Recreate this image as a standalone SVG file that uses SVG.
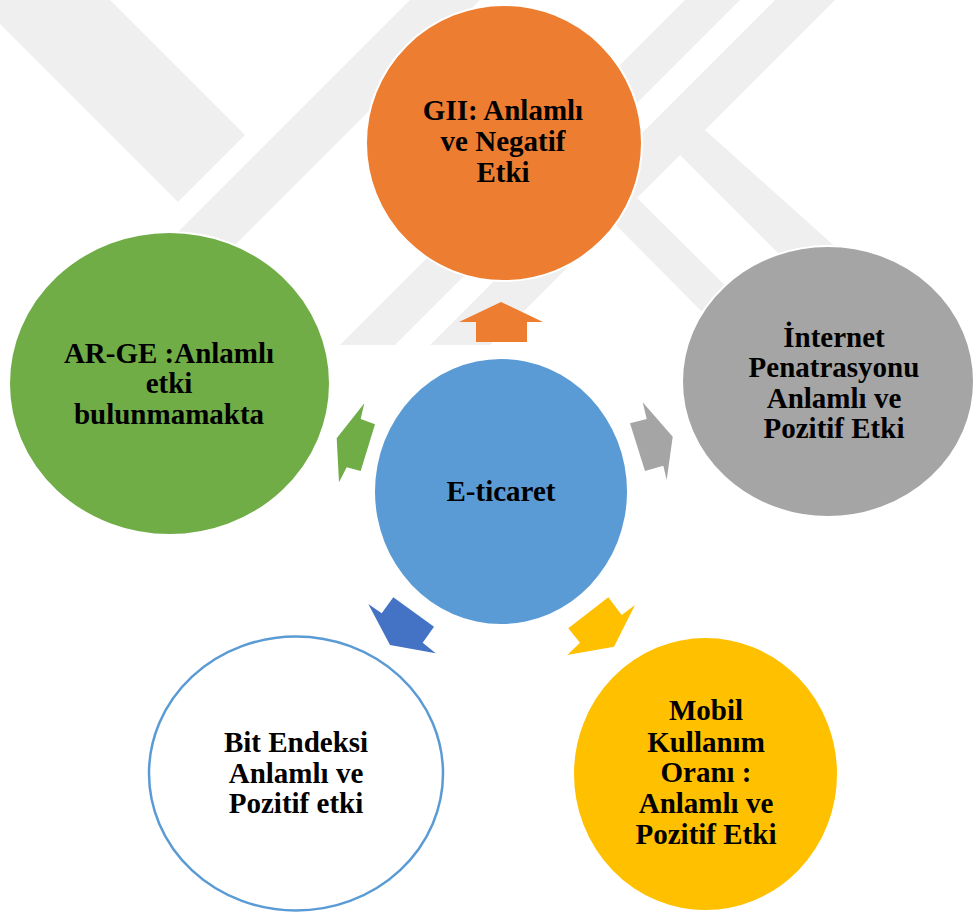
<svg xmlns="http://www.w3.org/2000/svg" width="976" height="912" viewBox="0 0 976 912">
<style>
.wm{fill:#EFEFEF}
.t{font-family:"Liberation Serif","Times New Roman",serif;font-weight:bold;font-size:29px;fill:#000;text-anchor:middle}
.node{stroke:#FFFFFF;stroke-width:2}
</style>
<rect width="976" height="912" fill="#FFFFFF"/>
<g id="watermark">
<polygon class="wm" points="0,0 110,0 245,135 178,202 0,24"/>
<polygon class="wm" points="410,0 480,0 135,345 65,345"/>
<polygon class="wm" points="685,0 740,0 395,345 340,345"/>
<polygon class="wm" points="775,0 835,0 490,345 430,345"/>
<polygon class="wm" points="705,130 680,155 800,275 850,260"/>
<polygon class="wm" points="636,197 612,221 720,330 760,320"/>
</g>
<g id="connectors">
<polygon fill="#ED7D31" points="501,302 543,322 527,322 527,342 476,342 476,322 459,322"/>
<polygon fill="#70AD47" points="364.3,403.3 360.7,419 375,424.3 360.7,471 346.7,467.3 339,482.3 336.7,438.3"/>
<polygon fill="#A5A5A5" points="642.7,402.3 646.7,419 630,423.3 645,471 663.3,465.7 666.7,480 672.7,436.7"/>
<polygon fill="#4472C4" points="368.3,604 381.7,613.3 393.3,597.3 434,626.7 422.7,642.7 435.7,653.3 390,645"/>
<polygon fill="#FFC000" points="608.3,597.3 621.7,615 635,605 614,646.7 567.3,655 580,642.7 568.3,628.3"/>
</g>
<g id="node-gii">
<ellipse class="node" cx="504" cy="143" rx="138" ry="138" fill="#ED7D31"/>
<text class="t" x="503" y="120">GII: Anlamlı</text>
<text class="t" x="503" y="151">ve Negatif</text>
<text class="t" x="503" y="182">Etki</text>
</g>
<g id="node-arge">
<ellipse class="node" cx="169.5" cy="383.5" rx="160.5" ry="151.5" fill="#70AD47"/>
<text class="t" x="169" y="363">AR-GE :Anlamlı</text>
<text class="t" x="169" y="393">etki</text>
<text class="t" x="169" y="424">bulunmamakta</text>
</g>
<g id="node-internet">
<ellipse class="node" cx="828" cy="381.5" rx="146" ry="135.5" fill="#A5A5A5"/>
<text class="t" x="834" y="347">İnternet</text>
<text class="t" x="834" y="377">Penatrasyonu</text>
<text class="t" x="834" y="408">Anlamlı ve</text>
<text class="t" x="834" y="438">Pozitif Etki</text>
</g>
<g id="node-eticaret">
<ellipse cx="501" cy="491.5" rx="126" ry="132.5" fill="#5B9BD5"/>
<text class="t" x="501" y="501">E-ticaret</text>
</g>
<g id="node-bit">
<ellipse cx="296" cy="773.5" rx="147" ry="137" fill="#FFFFFF" stroke="#5B9BD5" stroke-width="2.5"/>
<text class="t" x="296" y="752">Bit Endeksi</text>
<text class="t" x="296" y="783">Anlamlı ve</text>
<text class="t" x="296" y="813">Pozitif etki</text>
</g>
<g id="node-mobil">
<ellipse class="node" cx="705.5" cy="774" rx="132.5" ry="137" fill="#FFC000"/>
<text class="t" x="706" y="720">Mobil</text>
<text class="t" x="706" y="752">Kullanım</text>
<text class="t" x="706" y="782">Oranı :</text>
<text class="t" x="706" y="813">Anlamlı ve</text>
<text class="t" x="706" y="844">Pozitif Etki</text>
</g>
</svg>
